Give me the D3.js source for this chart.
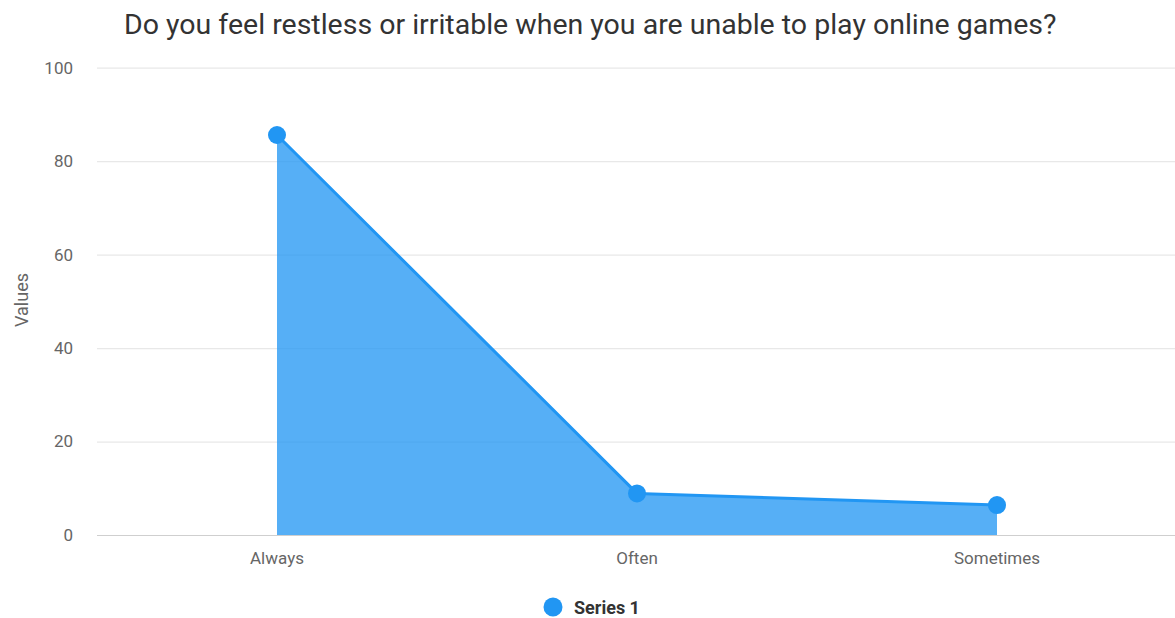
<!DOCTYPE html>
<html>
<head>
<meta charset="utf-8">
<script src="https://cdn.jsdelivr.net/npm/d3@7/dist/d3.min.js"></script>
<style>
  html, body { margin: 0; padding: 0; background: #fff; overflow: hidden; }
  svg { display: block; font-family: Roboto, "Noto Sans", sans-serif; }
</style>
</head>
<body>
<svg id="chart" width="1175" height="618"></svg>
<script>
const title = "Do you feel restless or irritable when you are unable to play online games?";
const categories = ["Always", "Often", "Sometimes"];
const seriesName = "Series 1";
const seriesValues = [85.6, 8.9, 6.4];
const yTicks = [0, 20, 40, 60, 80, 100];
const yAxisTitle = "Values";

const svg = d3.select("#chart");
const margin = { left: 97, right: 1177, top: 67.7, bottom: 535 };

const x = d3.scaleBand().domain(categories).range([margin.left, margin.right]);
const y = d3.scaleLinear().domain([0, 100]).range([margin.bottom, margin.top]);
const cx = d => x(d) + x.bandwidth() / 2;

const data = categories.map((c, i) => ({ cat: c, value: seriesValues[i] }));

// Title
svg.append("text")
  .attr("x", 124).attr("y", 34)
  .attr("font-size", 28.5).attr("fill", "#333")
  .text(title);

// Horizontal gridlines and value labels
const yAxis = svg.append("g")
  .attr("transform", `translate(${margin.left},0)`)
  .call(d3.axisLeft(y).tickValues(yTicks).tickSize(-(margin.right - margin.left)).tickPadding(24));
yAxis.select(".domain").remove();
yAxis.selectAll(".tick line").attr("stroke", d => d === 0 ? "#cfcfcf" : "#e8e8e8").attr("stroke-width", 1.2);
yAxis.selectAll(".tick text").attr("font-size", 17).attr("fill", "#666").attr("font-family", "Roboto, sans-serif");

// Axis title
svg.append("text")
  .attr("transform", "translate(28,300) rotate(-90)")
  .attr("text-anchor", "middle")
  .attr("font-size", 18).attr("fill", "#666")
  .text(yAxisTitle);

// Category labels
const xAxis = svg.append("g")
  .attr("transform", `translate(0,${margin.bottom})`)
  .call(d3.axisBottom(x).tickSize(0).tickPadding(17));
xAxis.select(".domain").remove();
xAxis.selectAll(".tick text").attr("font-size", 17).attr("fill", "#666").attr("font-family", "Roboto, sans-serif");

// Area under the series
const area = d3.area().x(d => cx(d.cat)).y0(y(0)).y1(d => y(d.value));
svg.append("path").datum(data)
  .attr("d", area)
  .attr("fill", "rgba(33,150,243,0.76)");

// Series line
const line = d3.line().x(d => cx(d.cat)).y(d => y(d.value));
svg.append("path").datum(data)
  .attr("d", line)
  .attr("fill", "none")
  .attr("stroke", "#2196F3")
  .attr("stroke-width", 3);

// Point markers
svg.selectAll("circle.pt").data(data).enter().append("circle")
  .attr("class", "pt")
  .attr("cx", d => cx(d.cat)).attr("cy", d => y(d.value))
  .attr("r", 9).attr("fill", "#2196F3");

// Legend
const legend = svg.append("g").attr("transform", "translate(553,607)");
legend.append("circle").attr("r", 9.5).attr("fill", "#2196F3");
legend.append("text")
  .attr("x", 21).attr("y", 6.5)
  .attr("font-size", 18).attr("font-weight", "bold").attr("fill", "#333")
  .text(seriesName);
</script>
</body>
</html>
